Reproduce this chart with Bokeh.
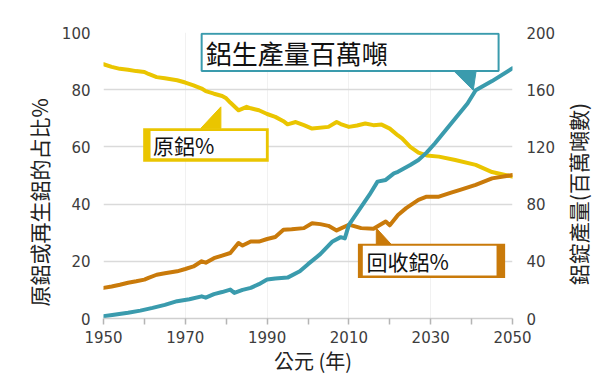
from math import pi
from bokeh.plotting import figure
from bokeh.layouts import row
from bokeh.models import Range1d, LinearAxis, FixedTicker, Label
from bokeh.embed import file_html
from bokeh.resources import INLINE

# ---------------- data ----------------
primary_years = [1950, 1952, 1954, 1956, 1958, 1960, 1961, 1963, 1965, 1968, 1970, 1972,
                 1974, 1975, 1977, 1979, 1980, 1981, 1983, 1985, 1986, 1988, 1990, 1992,
                 1994, 1995, 1997, 1999, 2001, 2005, 2007, 2008, 2010, 2012, 2014, 2016,
                 2018, 2020, 2022, 2023, 2025, 2027, 2029, 2032, 2036, 2041, 2045, 2050]
primary_pct = [88.9, 88.0, 87.3, 87.0, 86.5, 86.2, 85.5, 84.4, 84.0, 83.3, 82.5, 81.5,
               80.4, 79.5, 78.6, 77.8, 77.0, 75.5, 72.8, 74.0, 73.5, 72.8, 71.5, 70.5,
               69.0, 67.9, 68.7, 67.6, 66.4, 67.0, 68.7, 68.0, 67.0, 67.5, 68.2, 67.6,
               67.8, 66.4, 64.0, 63.0, 60.0, 58.0, 57.0, 56.6, 55.4, 53.7, 51.2, 49.6]

recycled_years = [1950, 1952, 1954, 1956, 1958, 1960, 1961, 1963, 1965, 1968, 1970, 1972,
                  1974, 1975, 1977, 1979, 1981, 1983, 1984, 1986, 1988, 1990, 1992, 1994,
                  1996, 1999, 2001, 2003, 2005, 2007, 2010, 2013, 2016, 2019, 2020, 2022,
                  2024, 2027, 2029, 2032, 2035, 2037, 2041, 2045, 2050]
recycled_pct = [10.7, 11.2, 11.8, 12.5, 13.0, 13.6, 14.2, 15.3, 15.8, 16.5, 17.3, 18.2,
                20.0, 19.5, 21.1, 22.0, 22.9, 26.4, 25.5, 26.9, 26.9, 27.8, 28.5, 31.0,
                31.2, 31.6, 33.3, 33.0, 32.4, 30.8, 32.8, 31.6, 31.4, 33.9, 32.6, 36.2,
                38.6, 41.5, 42.6, 42.6, 44.0, 44.9, 46.7, 49.0, 50.2]

prod_years = [1950, 1953, 1956, 1959, 1962, 1965, 1968, 1971, 1974, 1975, 1977, 1979,
              1981, 1982, 1984, 1986, 1988, 1990, 1992, 1995, 1998, 2000, 2003, 2006,
              2008, 2009, 2010, 2013, 2015, 2017, 2019, 2021, 2022, 2025, 2027, 2029,
              2031, 2035, 2039, 2041, 2045, 2050]
prod_mt = [1.6, 2.8, 4.0, 5.5, 7.4, 9.5, 12.1, 13.5, 15.5, 14.6, 17.0, 18.5,
           20.2, 17.9, 20.0, 21.4, 24.0, 27.2, 28.0, 28.6, 33.0, 38.0, 45.0, 53.9,
           56.9, 56.0, 65.5, 78.0, 86.4, 95.7, 96.9, 101.5, 102.6, 107.3, 110.8, 116.0,
           122.4, 136.4, 150.3, 159.6, 166.0, 175.0]

x_ticks = [1950, 1960, 1970, 1980, 1990, 2000, 2010, 2020, 2030, 2040, 2050]
x_labels = ["1950", "", "1970", "", "1990", "", "2010", "", "2030", "", "2050"]
left_ticks = [0, 20, 40, 60, 80, 100]
right_ticks = [0, 40, 80, 120, 160, 200]

title_text = "鋁生產量百萬噸"
primary_text = "原鋁%"
recycled_text = "回收鋁%"
x_title = "公元 (年)"
left_title = "原鋁或再生鋁的占比%"
right_title = "鋁錠產量(百萬噸數)"

# ---------------- styling ----------------
YELLOW = "#EAC500"
ORANGE = "#C97A0A"
TEAL = "#3A9BAD"
TICK_FONT = "DejaVu Sans"
CJK_FONT = "Noto Sans CJK TC"
LEFT_W, MAIN_W, RIGHT_W = 58, 500, 44
TOTAL_H = 377


def blank(w, h):
    f = figure(width=w, height=h, x_range=Range1d(0, w), y_range=Range1d(0, h),
               x_axis_type=None, y_axis_type=None, output_backend="svg",
               toolbar_location=None, min_border=0)
    f.outline_line_color = None
    f.background_fill_color = "white"
    f.border_fill_color = "white"
    f.xgrid.visible = False
    f.ygrid.visible = False
    return f


p = figure(width=MAIN_W, height=TOTAL_H, x_range=Range1d(1950, 2050), y_range=Range1d(0, 100),
           output_backend="svg", toolbar_location=None,
           min_border_left=44, min_border_right=44, min_border_top=32, min_border_bottom=58)
p.extra_y_ranges = {"r": Range1d(0, 200)}
p.outline_line_color = None
p.background_fill_color = "white"
p.border_fill_color = "white"

# axes
p.xaxis.ticker = FixedTicker(ticks=x_ticks)
p.xaxis.major_label_overrides = {t: l for t, l in zip(x_ticks, x_labels)}
p.xaxis.axis_line_color = "#cfcfcf"
p.xaxis.axis_line_width = 1.5
p.xaxis.major_tick_in = 0
p.xaxis.major_tick_out = 6
p.xaxis.major_tick_line_color = "#b5b5b5"
p.xaxis.major_tick_line_width = 1.5
p.xaxis.minor_tick_line_color = None
p.xaxis.major_label_standoff = 6
p.xaxis.major_label_text_font = TICK_FONT
p.xaxis.major_label_text_font_size = "15px"
p.xaxis.major_label_text_color = "#3d3d3d"
p.xaxis.axis_label = "\u2002" + x_title
p.xaxis.axis_label_text_font = CJK_FONT
p.xaxis.axis_label_text_font_size = "20px"
p.xaxis.axis_label_text_font_style = "normal"
p.xaxis.axis_label_text_color = "#222222"
p.xaxis.axis_label_standoff = 0

p.yaxis.ticker = FixedTicker(ticks=left_ticks)
p.yaxis.axis_line_color = None
p.yaxis.major_tick_line_color = None
p.yaxis.minor_tick_line_color = None
p.yaxis.major_label_standoff = 7
p.yaxis.major_label_text_font = TICK_FONT
p.yaxis.major_label_text_font_size = "15px"
p.yaxis.major_label_text_color = "#3d3d3d"

ry = LinearAxis(y_range_name="r", ticker=FixedTicker(ticks=right_ticks))
ry.axis_line_color = None
ry.major_tick_line_color = None
ry.minor_tick_line_color = None
ry.major_label_standoff = 8
ry.major_label_text_font = TICK_FONT
ry.major_label_text_font_size = "15px"
ry.major_label_text_color = "#3d3d3d"
p.add_layout(ry, "right")

# grids
p.ygrid.ticker = FixedTicker(ticks=left_ticks)
p.ygrid.grid_line_color = "#dadada"
p.ygrid.grid_line_width = 1.5
p.xgrid.ticker = FixedTicker(ticks=[1970, 1990, 2010, 2030])
p.xgrid.grid_line_color = "#f1f1f1"
p.xgrid.grid_line_width = 1

# data lines
p.line(primary_years, primary_pct, line_color=YELLOW, line_width=4, line_join="round", line_cap="round")
p.line(recycled_years, recycled_pct, line_color=ORANGE, line_width=4, line_join="round", line_cap="round")
p.line(prod_years, prod_mt, y_range_name="r", line_color=TEAL, line_width=4, line_join="round", line_cap="round")

# ---------------- callouts (layout positions) ----------------
# teal title box
p.quad(left=[1974.0], right=[2046.6], top=[99.6], bottom=[86.5],
       fill_color="white", line_color=TEAL, line_width=2)
p.patch([2035.7, 2041.1, 2040.4], [86.5, 86.5, 79.8], fill_color=TEAL, line_color=TEAL, line_width=1)
p.add_layout(Label(x=1975.0, y=93.0, text=title_text, text_font=CJK_FONT, text_font_size="26px",
                   text_color="#111111", text_align="left", text_baseline="middle"))

# yellow box
p.quad(left=[1959.7], right=[1990.4], top=[66.55], bottom=[54.8], fill_color=YELLOW, line_color=None)
p.quad(left=[1961.5], right=[1989.7], top=[65.6], bottom=[56.0], fill_color="white", line_color=None)
p.patch([1973.8, 1978.7, 1978.7], [66.5, 66.5, 74.0], fill_color=YELLOW, line_color=YELLOW)
p.add_layout(Label(x=1962.1, y=60.8, text=primary_text, text_font=CJK_FONT, text_font_size="21px",
                   text_color="#111111", text_align="left", text_baseline="middle"))

# orange box
p.quad(left=[2012.2], right=[2048.2], top=[26.1], bottom=[14.2], fill_color=ORANGE, line_color=None)
p.quad(left=[2013.4], right=[2046.1], top=[25.4], bottom=[15.0], fill_color="white", line_color=None)
p.patch([2016.7, 2016.7, 2020.3], [31.6, 26.0, 26.0], fill_color=ORANGE, line_color=ORANGE)
p.add_layout(Label(x=2014.3, y=20.2, text=recycled_text, text_font=CJK_FONT, text_font_size="21px",
                   text_color="#111111", text_align="left", text_baseline="middle"))

# ---------------- vertical axis titles (side strips) ----------------
fl = blank(LEFT_W, TOTAL_H)
fl.add_layout(Label(x=38, y=TOTAL_H - 224, text=left_title, angle=pi / 2, text_font=CJK_FONT,
                    text_font_size="21px", text_color="#222222", text_align="center",
                    text_baseline="middle"))

fr = blank(RIGHT_W, TOTAL_H)
fr.add_layout(Label(x=577 - LEFT_W - MAIN_W, y=TOTAL_H - 213, text=right_title, angle=pi / 2,
                    text_font=CJK_FONT, text_font_size="21px", text_color="#222222",
                    text_align="center", text_baseline="middle"))

layout = row(fl, p, fr, spacing=0)

open("out.html", "w").write(file_html(layout, INLINE))
